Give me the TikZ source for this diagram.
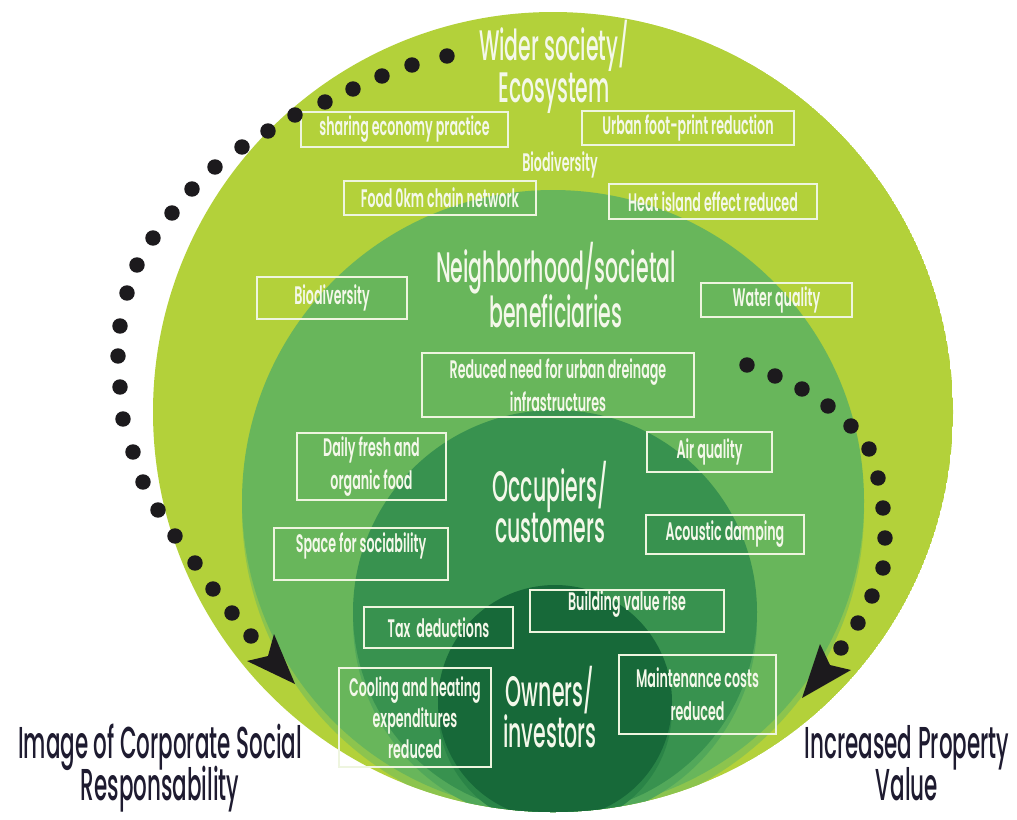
\documentclass[tikz,border=0pt]{standalone}
\usepackage{fontspec}
\setmainfont{Poppins}
\newfontfamily\headfont{Poppins Medium}[FakeStretch=0.48]
\newfontfamily\tagfont{Poppins SemiBold}[FakeStretch=0.5]

\definecolor{ringWide}{HTML}{B3D13A}
\definecolor{ringWideEdge}{HTML}{8CC44E}
\definecolor{ringHood}{HTML}{68B65B}
\definecolor{ringHoodEdge}{HTML}{52A85A}
\definecolor{ringOcc}{HTML}{38924F}
\definecolor{ringOccEdge}{HTML}{2A8447}
\definecolor{ringOwn}{HTML}{176939}
\definecolor{boxline}{HTML}{EEF5DF}
\definecolor{txt}{HTML}{F4F8EA}
\definecolor{foottxt}{HTML}{1E1B30}
\definecolor{dotcol}{HTML}{1C1A1D}

\tikzset{
  tag/.style={draw=boxline, line width=1pt, text=txt,
    font=\tagfont\fontsize{19}{25}\selectfont, align=center, inner sep=0pt},
  boxsize/.style n args={2}{minimum width=#1*0.75pt, minimum height=#2*0.75pt},
  plain/.style={text=txt, font=\tagfont\fontsize{19}{25}\selectfont, inner sep=0pt},
  head/.style={text=txt, font=\headfont\fontsize{32}{30}\selectfont,
    align=center, inner sep=0pt},
  foot/.style={text=foottxt, font=\headfont\fontsize{33.5}{32}\selectfont,
    align=center, inner sep=0pt, anchor=south},
  dotmark/.style={fill=dotcol},
  headtip/.style={fill=dotcol},
}

\begin{document}
\begin{tikzpicture}[x=0.75pt, y=-0.75pt]
\path[use as bounding box, fill=white] (0,0) rectangle (1017,819);

% circle centres
\coordinate (cWide) at (553,412);
\coordinate (cWideEdge) at (553,510);
\coordinate (cHood) at (553,501);
\coordinate (cHoodEdge) at (555,621);
\coordinate (cOcc) at (555,612);
\coordinate (cOccEdge) at (555,710);
\coordinate (cOwn) at (555,702);

% nested stakeholder circles
\begin{scope}
  \clip (cWide) circle (300pt);
  \fill[ringWide] (cWide) circle (300pt);
  \fill[ringWideEdge] (cWideEdge) circle (233.25pt);
  \fill[ringHood] (cHood) circle (233.25pt);
  \fill[ringHoodEdge] (cHoodEdge) circle (151.5pt);
  \fill[ringOcc] (cOcc) circle (151.5pt);
  \fill[ringOccEdge] (cOccEdge) circle (87.75pt);
  \fill[ringOwn] (cOwn) circle (87.75pt);
\end{scope}

% circle titles
\node[head] (wide) at (554,67) {Wider society/\\Ecosystem};
\node[head] (hood) at (556,285) {Neighborhood/societal\\beneficiaries};
\node[head] (occ) at (550,502) {Occupiers/\\customers};
\node[head] (own) at (550,707) {Owners/\\investors};

% benefits
\node[tag, boxsize={207}{35}] (share) at (404.5,129.5) {sharing economy practice};
\node[tag, boxsize={212}{34}] (urban) at (688,128) {Urban foot-print reduction};
\node[plain] (biotop) at (560,165) {Biodiversity};
\node[tag, boxsize={192}{34}] (food) at (440,198) {Food 0km chain network};
\node[tag, boxsize={208}{35}] (heat) at (713,201.5) {Heat island effect reduced};
\node[tag, boxsize={150}{42}] (bio) at (332,298) {Biodiversity};
\node[tag, boxsize={151}{34}] (water) at (776.5,300) {Water quality};
\node[tag, boxsize={272}{64}] (drain) at (558,385) {Reduced need for urban dreinage\\infrastructures};
\node[tag, boxsize={149}{67}] (daily) at (371.5,466.5) {Daily fresh and\\organic food};
\node[tag, boxsize={125}{40}] (air) at (709.5,452) {Air quality};
\node[tag, boxsize={174}{52}, text depth=17pt] (space) at (361,554) {Space for sociability};
\node[tag, boxsize={158}{39}] (acou) at (725,534.5) {Acoustic damping};
\node[tag, boxsize={149}{41}] (tax) at (438.5,627.5) {Tax\ \ deductions};
\node[tag, boxsize={194}{42}, text depth=15pt] (build) at (627,611) {Building value rise};
\node[tag, boxsize={152}{99}, font=\tagfont\fontsize{19}{23}\selectfont] (cool) at (415,717.5) {Cooling and heating\\expenditures\\reduced};
\node[tag, boxsize={157}{79}] (maint) at (697.5,694.5) {Maintenance costs\\reduced};

% outcomes (last line sits on its baseline)
\node[foot] (csr) at (160,801) {Image of Corporate Social\\\smash{Responsability}};
\node[foot] (value) at (907,801) {Increased Property\\\smash{Value}};

% dotted arc towards the corporate image
\foreach \p in {(447,56),(412,65),(382,76),(353,89),(325,102),(295,115),
  (268,131),(242,147),(215,167),(192,189),(172,213),(153,238),(137,265),
  (127,293),(120,326),(118,356),(120,387),(123,419),(133,452),(143,482),
  (158,510),(175,536),(195,563),(213,589),(232,613),(251,636)}
  \fill[dotmark] \p circle (5.8pt);
\coordinate (lTip) at (295,684);
\coordinate (lBackA) at (247,661);
\coordinate (lNotch) at (268,656);
\coordinate (lBackB) at (274,634);
\fill[headtip] (lTip) -- (lBackA) -- (lNotch) -- (lBackB) -- cycle;

% dotted arc towards the property value
\foreach \p in {(747,365),(775,376),(802,389),(828,406),(851,426),(869,449),
  (878,478),(883,508),(885,538),(883,568),(872,596),(858,623),(841,648)}
  \fill[dotmark] \p circle (5.8pt);
\coordinate (rTip) at (802,698);
\coordinate (rBackA) at (820,644);
\coordinate (rNotch) at (830,665);
\coordinate (rBackB) at (851,670);
\fill[headtip] (rTip) -- (rBackA) -- (rNotch) -- (rBackB) -- cycle;
\end{tikzpicture}
\end{document}
